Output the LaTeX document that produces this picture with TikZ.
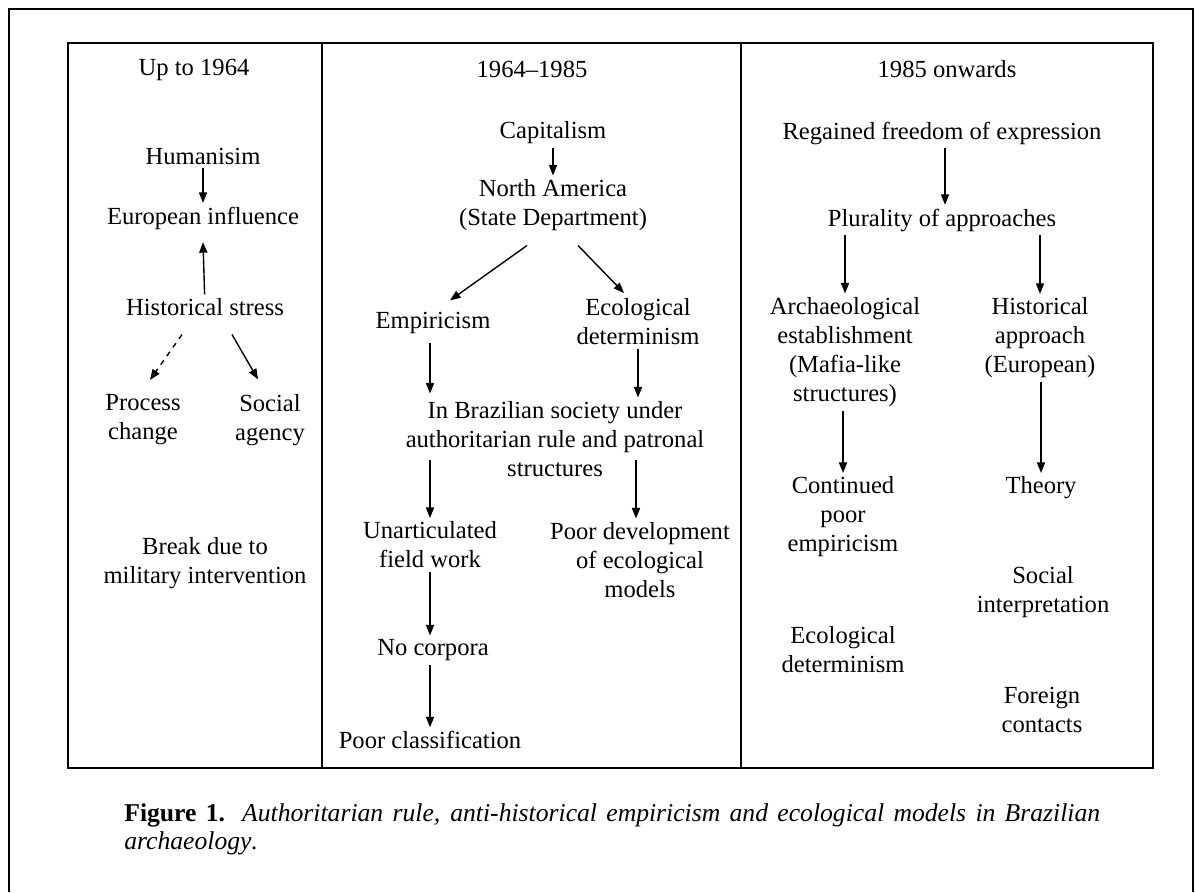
\documentclass[tikz,border=0pt]{standalone}
\usepackage{fontspec}
\setmainfont{Liberation Serif}
\usetikzlibrary{arrows.meta, positioning, calc}

\begin{document}
\begin{tikzpicture}[
  x=0.02cm, y=-0.02cm,
  framebox/.style={line width=1.3pt},
  textnode/.style={align=center, inner sep=2pt, font=\fontsize{14}{16.5}\selectfont},
  arr/.style={-{Triangle[length=6pt,width=4.6pt]}, line width=0.8pt}
]
  \useasboundingbox (0,0) rectangle (1195,892);

  % Frames
  \draw[framebox] (9,892) -- (9,9) -- (1193,9) -- (1193,892);
  \draw[framebox] (68,43) rectangle (1153,768);
  \draw[framebox] (322,43) -- (322,768);
  \draw[framebox] (741,43) -- (741,768);

  % Up to 1964
  \node[textnode] (head1) at (194,70) {Up to 1964};
  \node[textnode] (hum) at (203,156) {Humanisim};
  \node[textnode] (euro) at (203,218) {European influence};
  \node[textnode] (hist) at (205,307) {Historical stress};
  \node[textnode] (proc) at (143,420) {Process\\change};
  \node[textnode] (socag) at (270,420) {Social\\agency};
  \node[textnode] (break) at (205,563) {Break due to\\military intervention};

  \draw[arr] (hum) -- (euro);
  \draw[arr] (hist) -- ($(euro.south)+(0,9)$);
  \draw[arr, dashed] ($(hist.south)+(-23,15)$) -- ($(proc.north)+(7,-11)$);
  \draw[arr] ($(hist.south)+(27,15)$) -- ($(socag.north)+(-12,-11)$);

  % 1964-1985
  \node[textnode] (head2) at (532,69) {1964--1985};
  \node[textnode] (cap) at (553,133) {Capitalism};
  \node[textnode] (namer) at (553,205) {North America\\(State Department)};
  \node[textnode] (emp) at (433,323) {Empiricism};
  \node[textnode] (eco) at (638,322) {Ecological\\determinism};
  \node[textnode] (brazil) at (555,439) {In Brazilian society under\\authoritarian rule and patronal\\structures};
  \node[textnode] (unart) at (430,545) {Unarticulated\\field work};
  \node[textnode] (poordev) at (640,560) {Poor development\\of ecological\\models};
  \node[textnode] (nocorp) at (433,650) {No corpora};
  \node[textnode] (poorcl) at (430,740) {Poor classification};

  \draw[arr] (cap) -- (namer);
  \draw[arr] ($(namer.south)+(-26,11)$) -- ($(emp.north)+(17,-8)$);
  \draw[arr] ($(namer.south)+(25,11)$) -- ($(eco.north)+(-14,-2)$);
  \draw[arr] ($(unart.north |- emp.south)+(0,5)$) -- ($(unart.north |- brazil.north)+(0,-4)$);
  \draw[arr] (eco.south) -- (eco.south |- brazil.north);
  \draw[arr] ($(unart.north |- brazil.center)+(0,21)$) -- (unart.north);
  \draw[arr] ($(poordev.north |- brazil.center)+(-4,21)$) -- ($(poordev.north)+(-4,0)$);
  \draw[arr] (unart) -- (nocorp.north -| unart.south);
  \draw[arr] (nocorp.south -| poorcl.north) -- (poorcl);

  % 1985 onwards
  \node[textnode] (head3) at (947,69) {1985 onwards};
  \node[textnode] (regain) at (942,133) {Regained freedom of expression};
  \node[textnode] (plural) at (942,220) {Plurality of approaches};
  \node[textnode] (arch) at (845,352) {Archaeological\\establishment\\(Mafia-like\\structures)};
  \node[textnode] (happr) at (1040,338) {Historical\\approach\\(European)};
  \node[textnode] (contemp) at (843,517) {Continued\\poor\\empiricism};
  \node[textnode] (theory) at (1041,488) {Theory};
  \node[textnode] (ecodet) at (843,650) {Ecological\\determinism};
  \node[textnode] (socint) at (1043,592) {Social\\interpretation};
  \node[textnode] (foreign) at (1042,710) {Foreign\\contacts};

  \draw[arr] ($(regain.south)+(3,0)$) -- ($(plural.north)+(3,0)$);
  \draw[arr] (plural.south -| arch.north) -- (arch.north);
  \draw[arr] (plural.south -| happr.north) -- (happr.north);
  \draw[arr] (arch.south -| contemp.north) -- (contemp.north);
  \draw[arr] (happr.south -| theory.north) -- (theory.north);

  % Caption
  \node[anchor=west, align=justify, text width=19.52cm, inner sep=0pt,
        font=\fontsize{14.6}{15.9}\selectfont] (caption) at (124,829)
    {\textbf{Figure 1.} \textit{Authoritarian rule, anti-historical empiricism and ecological models in Brazilian\linebreak \mbox{archaeology}.}};
\end{tikzpicture}
\end{document}
